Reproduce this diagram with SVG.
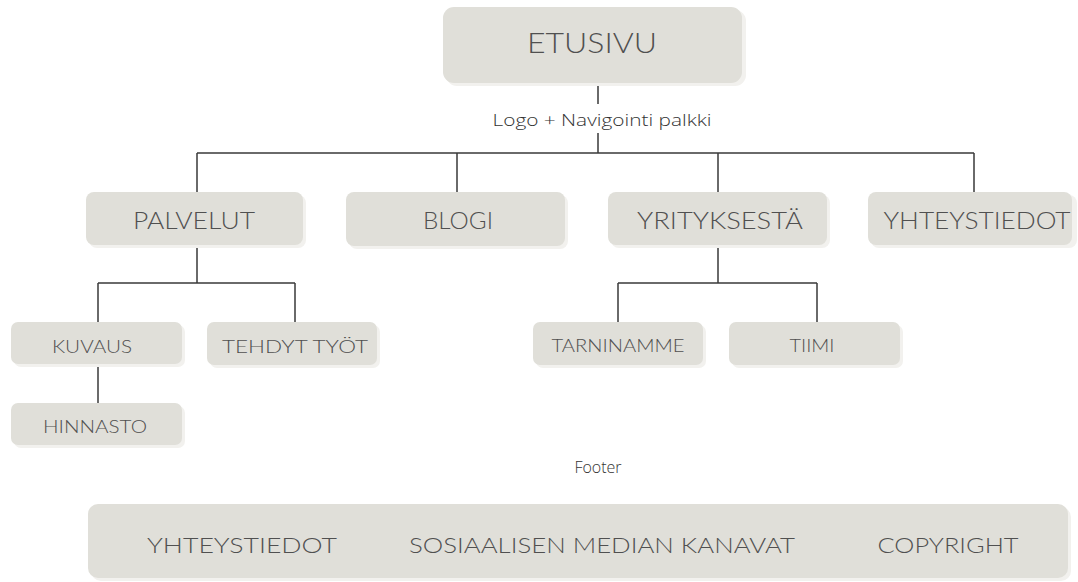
<svg xmlns="http://www.w3.org/2000/svg" width="1078" height="582" viewBox="0 0 1078 582">
<style>
.shadow{fill:#f2f1ee}
.box{fill:#e0dfd9}
.t{font-family:Lato,"Open Sans","DejaVu Sans",sans-serif;font-weight:300;fill:#505050;text-anchor:middle}
.lbl{font-family:"Open Sans","Noto Sans",sans-serif;font-weight:300;fill:#333333;text-anchor:middle}
.ln{stroke:#3a3a3a;stroke-width:1.5;fill:none}
</style>
<rect width="1078" height="582" fill="#ffffff"/>
<g id="connectors">
<path class="ln" d="M598 83V104M598 133V153M197 153H974M197 153V192M457 153V192M718 153V192M974 153V192"/>
<path class="ln" d="M197 245V283M98 283H295M98 283V322M295 283V322"/>
<path class="ln" d="M98 364V403"/>
<path class="ln" d="M718 245V283M618 283H817M618 283V322M817 283V322"/>
</g>
<g id="etusivu">
<rect class="shadow" x="446" y="10" width="300" height="76" rx="11"/>
<rect class="box" x="443" y="7" width="299" height="76" rx="11"/>
<text class="t" x="592" y="53" font-size="28" textLength="130" lengthAdjust="spacingAndGlyphs">ETUSIVU</text>
</g>
<text id="nav-label" class="lbl" x="602" y="126" font-size="17" textLength="219" lengthAdjust="spacingAndGlyphs">Logo + Navigointi palkki</text>
<g id="palvelut">
<rect class="shadow" x="89" y="195" width="217" height="53" rx="8"/>
<rect class="box" x="86" y="192" width="217" height="53" rx="8"/>
<text class="t" x="194" y="229" font-size="23" textLength="122" lengthAdjust="spacingAndGlyphs">PALVELUT</text>
</g>
<g id="blogi">
<rect class="shadow" x="349" y="195" width="219" height="54" rx="8"/>
<rect class="box" x="346" y="192" width="219" height="54" rx="8"/>
<text class="t" x="458" y="229" font-size="23" textLength="70" lengthAdjust="spacingAndGlyphs">BLOGI</text>
</g>
<g id="yrityksesta">
<rect class="shadow" x="611" y="195" width="219" height="53" rx="8"/>
<rect class="box" x="608" y="192" width="219" height="53" rx="8"/>
<text class="t" x="720" y="229" font-size="23" textLength="166" lengthAdjust="spacingAndGlyphs">YRITYKSESTÄ</text>
</g>
<g id="yhteystiedot">
<rect class="shadow" x="871" y="195" width="206" height="53" rx="8"/>
<rect class="box" x="868" y="192" width="204" height="53" rx="8"/>
<text class="t" x="977" y="229" font-size="23" textLength="187" lengthAdjust="spacingAndGlyphs">YHTEYSTIEDOT</text>
</g>
<g id="kuvaus">
<rect class="shadow" x="14" y="325" width="171" height="42" rx="7"/>
<rect class="box" x="11" y="322" width="171" height="42" rx="7"/>
<text class="t" x="92" y="353" font-size="18" textLength="80" lengthAdjust="spacingAndGlyphs">KUVAUS</text>
</g>
<g id="tehdyt-tyot">
<rect class="shadow" x="210" y="325" width="170" height="43" rx="7"/>
<rect class="box" x="207" y="322" width="170" height="43" rx="7"/>
<text class="t" x="295" y="353" font-size="18" textLength="146" lengthAdjust="spacingAndGlyphs">TEHDYT TYÖT</text>
</g>
<g id="hinnasto">
<rect class="shadow" x="14" y="406" width="171" height="42" rx="7"/>
<rect class="box" x="11" y="403" width="171" height="42" rx="7"/>
<text class="t" x="95" y="433" font-size="18" textLength="104" lengthAdjust="spacingAndGlyphs">HINNASTO</text>
</g>
<g id="tarinamme">
<rect class="shadow" x="536" y="325" width="170" height="43" rx="7"/>
<rect class="box" x="533" y="322" width="170" height="43" rx="7"/>
<text class="t" x="618" y="352" font-size="18" textLength="133" lengthAdjust="spacingAndGlyphs">TARNINAMME</text>
</g>
<g id="tiimi">
<rect class="shadow" x="732" y="325" width="171" height="43" rx="7"/>
<rect class="box" x="729" y="322" width="171" height="43" rx="7"/>
<text class="t" x="812" y="352" font-size="18" textLength="45" lengthAdjust="spacingAndGlyphs">TIIMI</text>
</g>
<text id="footer-label" class="lbl" x="598" y="473" font-size="16">Footer</text>
<g id="footer">
<rect class="shadow" x="91" y="507" width="980" height="74" rx="10"/>
<rect class="box" x="88" y="504" width="980" height="74" rx="10"/>
<text class="t" x="242" y="553" font-size="22" textLength="190" lengthAdjust="spacingAndGlyphs">YHTEYSTIEDOT</text>
<text class="t" x="602" y="553" font-size="22" textLength="386" lengthAdjust="spacingAndGlyphs">SOSIAALISEN MEDIAN KANAVAT</text>
<text class="t" x="948" y="553" font-size="22" textLength="141" lengthAdjust="spacingAndGlyphs">COPYRIGHT</text>
</g>
</svg>
